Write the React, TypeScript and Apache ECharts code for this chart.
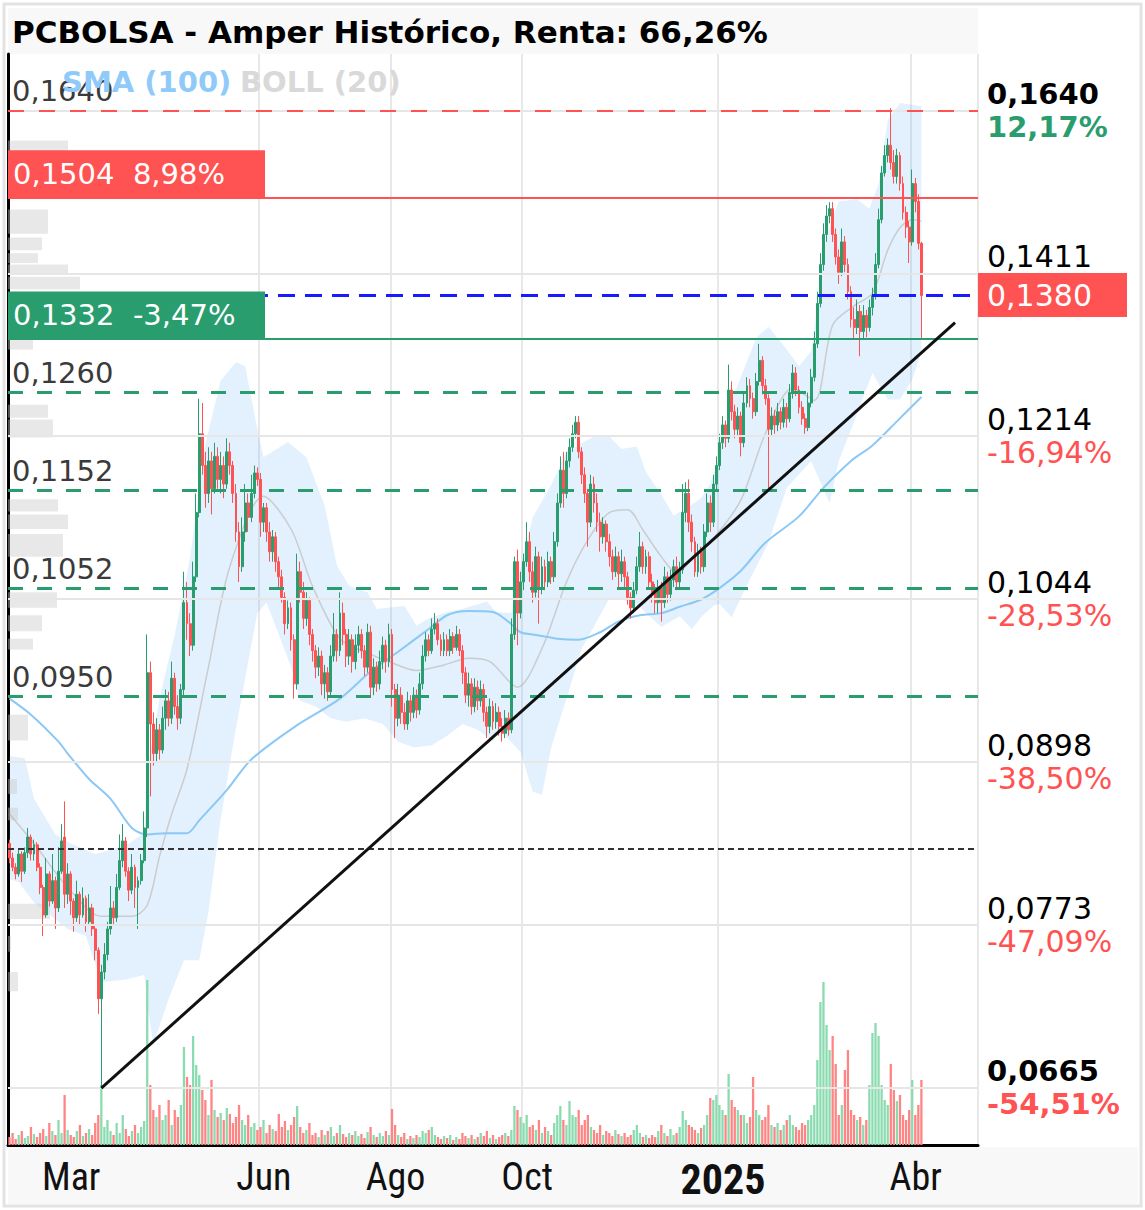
import React, { useEffect, useRef } from 'react';
import * as echarts from 'echarts';

const TITLE = 'PCBOLSA - Amper Histórico, Renta: 66,26%';
const LEGEND_SMA = 'SMA (100)';
const LEGEND_BOLL = 'BOLL (20)';

// trading calendar (Bolsa de Madrid)
const FIRST_DAY = '2024-02-05';
const LAST_DAY = '2025-04-04';
const HOLIDAYS = ['2024-03-29', '2024-04-01', '2024-05-01', '2024-12-25', '2024-12-26', '2025-01-01'];
const EMPTY_SLOTS_AFTER = 18;
const MONTH_LABELS: Record<string, string> = {
  '2024-03': 'Mar', '2024-06': 'Jun', '2024-08': 'Ago', '2024-10': 'Oct', '2025-01': '2025', '2025-04': 'Abr',
};
const GRID_MONTHS = ['2024-06', '2024-08', '2024-10', '2025-01', '2025-04'];

// price axis range (logarithmic)
const PRICE_MIN = 0.0631;
const PRICE_MAX = 0.1724;

// prices in 1/10000 EUR
const OPEN = [
  833,822,815,810,825,812,826,838,825,832, 815,800,780,810,790,805,785,812,838,795,
  810,790,778,795,780,792,775,785,770,755, 722,740,752,770,785,778,800,820,835,812,
  798,815,800,805,820,845,975,930,905,925, 908,935,950,935,970,945,935,960,1040,1020,
  1000,1065,1130,1215,1180,1150,1185,1155,1190,1165, 1180,1160,1195,1180,1150,1110,1075,1110,1140,1125,
  1150,1172,1165,1120,1135,1110,1090,1105,1080,1065, 1045,1020,1035,1005,965,1070,1050,1025,1042,1010,
  995,980,990,965,975,958,990,1010,995,1030, 1010,990,1005,985,1000,1010,995,980,1012,962,
  980,965,985,1000,985,1010,960,935,955,940, 930,950,940,955,942,965,990,1005,995,1015,
  1020,1005,995,1005,995,1008,998,1010,995,975, 955,965,945,962,950,960,940,928,945,932,
  940,928,922,935,925,1010,1080,1030,1060,1080, 1100,1070,1050,1085,1055,1075,1060,1080,1065,1100,
  1140,1175,1150,1185,1200,1215,1228,1195,1170,1150, 1120,1160,1140,1120,1105,1118,1100,1085,1070,1085,
  1068,1080,1065,1045,1035,1052,1075,1095,1075,1085, 1060,1050,1040,1055,1040,1065,1048,1062,1075,1060,
  1072,1130,1150,1120,1100,1070,1090,1075,1110,1140, 1120,1160,1180,1205,1225,1210,1265,1240,1220,1235,
  1205,1250,1270,1255,1240,1275,1300,1270,1255,1220, 1235,1225,1240,1228,1245,1232,1262,1285,1265,1245,
  1232,1222,1250,1280,1320,1370,1420,1460,1485,1495, 1460,1430,1410,1450,1420,1385,1350,1340,1360,1335,
  1355,1340,1365,1380,1420,1480,1545,1570,1585,1560, 1540,1570,1530,1490,1470,1450,1530,1505,1448,
];
const HIGH = [
  836,826,818,828,827,830,845,840,836,834, 818,802,822,812,825,808,830,848,866,818,
  812,792,805,797,800,794,795,788,772,757, 745,760,775,801,790,810,840,848,838,815,
  825,817,808,825,858,1010,985,940,935,930, 945,960,958,985,975,955,965,1070,1060,1030,
  1080,1150,1255,1250,1195,1200,1195,1205,1200,1195, 1190,1210,1205,1185,1160,1120,1125,1160,1150,1170,
  1180,1178,1172,1140,1140,1120,1112,1110,1085,1072, 1050,1042,1040,1010,1088,1080,1060,1050,1045,1015,
  1000,998,995,982,980,1000,1030,1015,1050,1040, 1015,1015,1010,1010,1018,1015,1000,1020,1018,988,
  985,995,1008,1005,1020,1015,965,965,962,948, 958,955,962,960,975,1000,1012,1010,1025,1030,
  1025,1010,1012,1010,1015,1012,1018,1015,1000,980, 975,970,970,968,968,965,945,952,950,948,
  945,935,942,940,1025,1085,1092,1070,1088,1120, 1110,1080,1095,1090,1085,1082,1090,1085,1110,1150,
  1190,1195,1195,1210,1225,1235,1235,1200,1178,1155, 1170,1168,1150,1130,1125,1122,1108,1092,1095,1090,
  1092,1085,1070,1050,1060,1085,1110,1100,1092,1090, 1068,1058,1062,1060,1075,1070,1072,1082,1085,1080,
  1160,1162,1165,1128,1105,1098,1095,1118,1150,1148, 1170,1190,1215,1235,1230,1295,1275,1248,1245,1240,
  1262,1280,1278,1262,1285,1320,1305,1278,1260,1245, 1242,1250,1245,1255,1250,1272,1295,1292,1270,1252,
  1238,1262,1290,1335,1385,1435,1475,1500,1504,1504, 1468,1440,1468,1458,1428,1392,1365,1375,1368,1368,
  1362,1375,1390,1435,1495,1555,1585,1595,1640,1578, 1580,1575,1540,1498,1478,1550,1538,1515,1450,
];
const LOW = [
  818,812,806,808,804,810,822,820,820,812, 795,765,778,786,788,770,782,810,785,788,
  780,768,775,772,778,768,772,765,748,712, 665,735,748,766,772,775,798,815,808,790,
  795,785,770,802,818,838,870,895,898,900, 905,925,928,930,938,925,930,955,1005,990,
  995,1060,1125,1170,1135,1140,1128,1150,1155,1150, 1145,1155,1170,1140,1100,1060,1070,1100,1110,1120,
  1145,1158,1105,1110,1100,1080,1080,1070,1055,1040, 1010,1015,995,952,960,1040,1015,1018,1000,985,
  970,972,955,952,950,955,985,985,990,1000, 980,982,975,978,993,988,972,975,955,955,
  958,960,978,975,980,945,918,928,930,925, 925,932,935,935,938,960,985,990,992,1010,
  1000,990,990,990,990,992,995,990,965,948, 945,938,940,942,945,932,918,922,925,926,
  920,915,918,920,922,1005,1000,1025,1052,1075, 1060,1040,1045,1020,1048,1052,1055,1058,1060,1095,
  1135,1135,1145,1178,1195,1210,1188,1160,1140,1095, 1115,1130,1110,1090,1098,1090,1075,1062,1065,1055,
  1060,1055,1038,1025,1030,1048,1070,1068,1068,1055, 1040,1030,1030,1022,1035,1040,1042,1055,1052,1055,
  1068,1120,1110,1090,1065,1065,1068,1070,1105,1110, 1115,1152,1175,1198,1200,1205,1230,1210,1212,1190,
  1200,1245,1245,1232,1235,1270,1260,1248,1155,1212, 1215,1218,1220,1222,1222,1228,1255,1258,1238,1225,
  1215,1218,1245,1275,1315,1365,1412,1450,1475,1450, 1420,1395,1405,1410,1375,1340,1325,1332,1305,1325,
  1328,1335,1355,1375,1415,1475,1540,1560,1550,1530, 1530,1520,1480,1455,1422,1445,1490,1440,1325,
];
const CLOSE = [
  822,815,810,825,812,826,838,825,832,815, 800,780,810,790,805,785,812,835,795,810,
  790,778,795,780,792,775,785,770,755,722, 740,752,770,785,778,800,820,835,812,798,
  815,800,805,820,845,975,930,905,925,908, 935,950,935,970,945,935,960,1040,1020,1000,
  1065,1130,1215,1180,1150,1185,1155,1190,1165,1180, 1160,1195,1180,1150,1110,1075,1110,1140,1125,1150,
  1172,1165,1120,1135,1110,1090,1105,1080,1065,1045, 1020,1035,1005,965,1070,1050,1025,1042,1010,995,
  980,990,965,975,958,990,1010,995,1030,1010, 990,1005,985,1000,1010,995,980,1012,962,980,
  965,985,1000,985,1010,960,935,955,940,930, 950,940,955,942,965,990,1005,995,1015,1020,
  1005,995,1005,995,1008,998,1010,995,975,955, 965,945,962,950,960,940,928,945,932,940,
  928,922,935,925,1010,1080,1030,1060,1080,1100, 1070,1050,1085,1055,1075,1060,1080,1065,1100,1140,
  1175,1150,1185,1200,1215,1228,1195,1170,1150,1120, 1160,1140,1120,1105,1118,1100,1085,1070,1085,1068,
  1080,1065,1045,1035,1052,1075,1095,1075,1085,1060, 1050,1040,1055,1040,1065,1048,1062,1075,1060,1072,
  1130,1150,1120,1100,1070,1090,1075,1110,1140,1120, 1160,1180,1205,1225,1210,1265,1240,1220,1235,1205,
  1250,1270,1255,1240,1275,1300,1270,1255,1220,1235, 1225,1240,1228,1245,1232,1262,1285,1265,1245,1232,
  1222,1250,1280,1320,1370,1420,1460,1485,1495,1460, 1430,1410,1450,1420,1385,1350,1340,1360,1335,1355,
  1340,1365,1380,1420,1480,1545,1570,1585,1560,1540, 1570,1530,1490,1470,1450,1530,1505,1448,1380,
];
const VOLUME = [
  8,12,6,10,14,7,9,18,11,8, 12,16,9,22,14,10,25,12,50,15,
  10,8,14,20,9,12,16,10,22,30, 60,18,25,14,10,22,12,30,16,9,
  14,20,12,18,24,165,60,35,28,40, 25,30,45,20,35,28,40,98,68,60,
  109,80,70,55,45,30,65,35,28,32, 25,37,31,22,28,40,25,20,30,18,
  22,15,18,25,12,20,16,14,31,18, 24,15,20,28,39,18,12,15,22,10,
  12,8,15,10,14,18,9,12,20,11, 8,12,10,14,9,11,7,13,18,10,
  8,12,9,14,10,36,20,10,8,12, 6,9,7,10,8,14,12,15,18,10,
  8,6,9,7,10,5,8,6,12,9, 7,10,6,8,12,9,14,7,10,6,
  8,10,12,9,15,39,35,28,22,30, 18,20,15,25,12,18,14,10,22,30,
  39,25,20,44,30,28,35,20,25,30, 18,15,12,20,10,14,12,9,15,11,
  9,12,8,10,15,20,12,8,10,7, 10,8,14,20,12,9,16,10,12,18,
  34,25,20,18,15,12,17,20,30,47, 45,50,40,35,30,71,45,38,35,30,
  30,22,28,68,35,30,25,28,40,20, 18,22,15,20,25,30,20,18,15,22,
  20,25,30,40,85,143,163,120,95,109, 81,30,40,75,95,35,30,25,28,20,
  25,60,112,122,109,60,45,40,81,55, 44,50,30,25,35,65,30,40,65,
];

// indicators: [trading-day index, price]
const SMA100 = [
  [0,.0952],[7,.0938],[16,.0915],[19,.0905],[26,.0884],[33,.0868],[40,.0845],[45,.0840],[51,.0841],[58,.0841],
  [62,.0851],[71,.0875],[79,.0900],[94,.0929],[108,.0952],[118,.0976],[127,.0994],[137,.1015],[143,.1028],[150,.1032],
  [158,.1031],[163,.1022],[167,.1012],[171,.1010],[179,.1006],[186,.1005],[193,.1012],[199,.1022],[206,.1028],[213,.1030],
  [219,.1036],[226,.1043],[232,.1054],[239,.1071],[247,.1099],[258,.1126],[266,.1156],[275,.1185],[282,.1202],[290,.1229],[298,.1257],
];
const BOLL_UP = [
  [0,.0903],[5,.0901],[8,.0868],[15,.0840],[20,.0833],[28,.0825],[33,.0828],[39,.0833],[44,.0841],[45,.0890],
  [49,.0952],[54,.1010],[59,.1084],[64,.1204],[69,.1276],[74,.1298],[77,.1293],[81,.1220],[83,.1189],[91,.1206],
  [97,.1189],[103,.1137],[107,.1076],[111,.1056],[117,.1050],[120,.1034],[129,.1037],[133,.1018],[137,.1025],[143,.1031],
  [148,.1034],[156,.1041],[159,.1031],[164,.1030],[167,.1075],[171,.1125],[177,.1159],[182,.1195],[191,.1212],[196,.1212],
  [200,.1198],[205,.1201],[208,.1173],[213,.1149],[217,.1127],[221,.1134],[226,.1145],[229,.1160],[232,.1190],[236,.1253],
  [244,.1327],[248,.1341],[253,.1318],[258,.1293],[262,.1311],[264,.1369],[267,.1458],[271,.1505],[277,.1508],[281,.1495],
  [284,.1529],[287,.1622],[291,.1648],[298,.1643],
];
const BOLL_MID = [
  [0,.0856],[8,.0833],[19,.0800],[30,.0779],[40,.0779],[45,.0787],[49,.0823],[53,.0856],[58,.0892],[65,.0980],
  [72,.1075],[83,.1147],[92,.1113],[99,.1056],[108,.1006],[116,.0994],[124,.0985],[133,.0977],[142,.0982],[150,.0988],
  [157,.0985],[166,.0962],[174,.0997],[182,.1060],[189,.1102],[196,.1130],[202,.1133],[207,.1112],[213,.1085],[218,.1069],
  [223,.1082],[230,.1103],[239,.1143],[247,.1215],[256,.1267],[263,.1253],[269,.1343],[276,.1367],[282,.1383],[287,.1439],
  [291,.1469],[295,.1480],[298,.1478],
];
const BOLL_LOW = [
  [0,.0806],[3,.0804],[8,.0789],[19,.0770],[25,.0765],[30,.0733],[38,.0735],[44,.0738],[46,.0705],[47,.0692],
  [52,.0722],[57,.0748],[62,.0748],[65,.0782],[69,.0852],[73,.0912],[77,.0970],[79,.1000],[81,.1030],[84,.1040],
  [88,.1010],[92,.0980],[95,.0950],[100,.0945],[105,.0935],[110,.0932],[116,.0935],[122,.0930],[127,.0915],[132,.0910],
  [138,.0912],[143,.0920],[148,.0930],[153,.0925],[158,.0915],[160,.0925],[165,.0912],[167,.0906],[171,.0874],[174,.0871],
  [177,.0910],[182,.0952],[187,.0997],[193,.1028],[196,.1044],[204,.1041],[213,.1017],[219,.1027],[223,.1015],[226,.1026],
  [230,.1037],[232,.1039],[236,.1026],[240,.1051],[248,.1099],[254,.1156],[262,.1185],[265,.1162],[268,.1140],[271,.1185],
  [277,.1238],[282,.1285],[287,.1254],[291,.1254],[295,.1277],[298,.1310],
];

// volume-by-price profile: [low price, high price, volume]
const PROFILE = [
  [.1566,.1592,60],[.1461,.1494,40],[.1439,.1456,34],[.1422,.1435,30],[.1407,.1420,60],[.1388,.1404,72],
  [.1313,.1325,25],[.1233,.1248,40],[.1211,.1231,45],[.1131,.1144,50],[.1113,.1128,60],[.1085,.1108,55],
  [.1035,.1050,49],[.1013,.1028,34],[.0996,.1006,25],[.0916,.0938,20],[.0872,.0884,9],[.0851,.0861,10],
  [.0777,.0788,42],[.0754,.0765,3],[.0727,.0740,10],
];

// trend line: [trading-day index, price]
const TREND = [[30, 0.0665], [309, 0.1346]];

// right axis ticks
const TICK_VALUES = [0.1640, 0.1411, 0.1214, 0.1044, 0.0898, 0.0773, 0.0665];
const TICK_TEXT = ['0,1640', '0,1411', '0,1214', '0,1044', '0,0898', '0,0773', '0,0665'];
const TICK_PCT = ['12,17%', '-3,47%', '-16,94%', '-28,53%', '-38,50%', '-47,09%', '-54,51%'];

// horizontal levels
const LEVEL_PRICES = [0.1640, 0.1504, 0.1380, 0.1332, 0.1260, 0.1152, 0.1052, 0.0950, 0.0830];
const LEVEL_TEXT = ['0,1640', '0,1504  8,98%', '0,1380', '0,1332  -3,47%', '0,1260', '0,1152', '0,1052', '0,0950', ''];
const LEVEL_KIND = ['max', 'resist', 'last', 'support', 'fib', 'fib', 'fib', 'fib', 'base'];

const GREEN = '#2a9d6f';
const RED = '#ff5252';
const VOL_UP = '#8adcb0';
const VOL_DOWN = '#ff8585';
const FONT = "'DejaVu Sans', 'Noto Sans', sans-serif";
const NARROW = "'Liberation Sans Narrow', 'Roboto Condensed', 'Roboto', sans-serif";

// the price axis is logarithmic: values are placed on it by their natural log
const L = (p: number) => Math.log(p);

function buildCategories(): string[] {
  const out: string[] = [];
  const hol = new Set(HOLIDAYS);
  const d = new Date(FIRST_DAY + 'T00:00:00Z');
  const end = new Date(LAST_DAY + 'T00:00:00Z');
  let extra = 0;
  for (let guard = 0; guard < 2000; guard++) {
    const dow = d.getUTCDay();
    const key = d.toISOString().slice(0, 10);
    if (dow !== 0 && dow !== 6 && !hol.has(key)) {
      if (d.getTime() > end.getTime()) {
        if (extra >= EMPTY_SLOTS_AFTER) break;
        extra++;
      }
      out.push(key);
    }
    d.setUTCDate(d.getUTCDate() + 1);
  }
  return out;
}

function levelLine(kind: string) {
  switch (kind) {
    case 'max': return { color: RED, width: 2, type: [16, 15] };
    case 'resist': return { color: RED, width: 2, type: 'solid' };
    case 'last': return { color: '#1a1aff', width: 3, type: [17, 10] };
    case 'support': return { color: GREEN, width: 2, type: 'solid' };
    case 'fib': return { color: GREEN, width: 3, type: [15, 14] };
    default: return { color: '#333', width: 2, type: [6, 4] };
  }
}

function levelLabel(kind: string, text: string) {
  if (kind === 'base') return { show: false };
  if (kind === 'resist' || kind === 'support') {
    return {
      show: true, position: 'insideStartTop', distance: [0, 0], formatter: () => text,
      color: '#fff', fontSize: 29, fontFamily: FONT, backgroundColor: kind === 'resist' ? RED : GREEN,
      padding: [8, 6, 8, 5], width: 246, lineHeight: 31,
    };
  }
  if (kind === 'last') {
    return {
      show: true, position: 'end', distance: 0, formatter: () => text,
      color: '#fff', fontSize: 30, fontFamily: FONT, backgroundColor: RED,
      padding: [8, 0, 6, 9], width: 140, lineHeight: 30,
    };
  }
  return {
    show: true, position: 'insideStartTop', distance: [4, 5], formatter: () => text,
    color: '#3a3a3a', fontSize: 29, fontFamily: FONT,
  };
}

function buildOption() {
  const cats = buildCategories();
  const labelAt = new Map<number, string>();
  const gridAt = new Set<number>();
  const seen = new Set<string>();
  cats.forEach((d, i) => {
    const m = d.slice(0, 7);
    if (!seen.has(m)) {
      seen.add(m);
      if (MONTH_LABELS[m]) labelAt.set(i, MONTH_LABELS[m]);
      if (GRID_MONTHS.includes(m)) gridAt.add(i);
    }
  });

  const candles = CLOSE.map((c, i) => [L(OPEN[i] / 1e4), L(c / 1e4), L(LOW[i] / 1e4), L(HIGH[i] / 1e4)]);
  const vols = VOLUME.map((v, i) => ({ value: v, itemStyle: { color: CLOSE[i] >= OPEN[i] ? VOL_UP : VOL_DOWN } }));
  const toLog = (arr: number[][]) => arr.map(([i, p]) => [i, L(p)]);

  const tickRich = {
    v: { fontSize: 30, color: '#000', fontFamily: FONT, lineHeight: 33 },
    vb: { fontSize: 29, color: '#000', fontFamily: FONT, fontWeight: 'bold', lineHeight: 33 },
    pu: { fontSize: 30, color: GREEN, fontFamily: FONT, lineHeight: 33 },
    pub: { fontSize: 29, color: GREEN, fontFamily: FONT, fontWeight: 'bold', lineHeight: 33 },
    pd: { fontSize: 30, color: RED, fontFamily: FONT, lineHeight: 33 },
    pdb: { fontSize: 29, color: RED, fontFamily: FONT, fontWeight: 'bold', lineHeight: 33 },
  };
  const tickLines = TICK_VALUES.map((v, k) => {
    const bold = k === 0 || k === TICK_VALUES.length - 1;
    const up = TICK_PCT[k].charAt(0) !== '-';
    const vs = bold ? 'vb' : 'v';
    const ps = (up ? 'pu' : 'pd') + (bold ? 'b' : '');
    const txt = `{${vs}|${TICK_TEXT[k]}}\n{${ps}|${TICK_PCT[k]}}`;
    return {
      yAxis: L(v),
      lineStyle: { color: '#e6e6e6', width: 2, type: 'solid' },
      label: { show: true, position: 'end', distance: 9, formatter: () => txt, rich: tickRich },
    };
  });
  const levelLines = LEVEL_PRICES.map((p, k) => ({
    yAxis: L(p),
    lineStyle: levelLine(LEVEL_KIND[k]),
    label: levelLabel(LEVEL_KIND[k], LEVEL_TEXT[k]),
  }));

  const bandUp = toLog(BOLL_UP);
  const bandLow = toLog(BOLL_LOW);

  return {
    animation: false,
    backgroundColor: '#ffffff',
    textStyle: { fontFamily: FONT },
    graphic: [
      { type: 'rect', z: -10, silent: true, shape: { x: 4, y: 4, width: 1137, height: 1202 }, style: { fill: '#fff', stroke: '#e3e3e3', lineWidth: 3 } },
      { type: 'rect', z: -9, silent: true, shape: { x: 8, y: 8, width: 970, height: 46 }, style: { fill: '#f8f8f8' } },
      { type: 'rect', z: -9, silent: true, shape: { x: 8, y: 1147, width: 1130, height: 57 }, style: { fill: '#f8f8f8' } },
      { type: 'text', z: 100, silent: true, style: { x: 12, y: 32, text: TITLE, fill: '#000', fontSize: 31, fontWeight: 'bold', fontFamily: FONT, verticalAlign: 'middle' } },
      { type: 'text', z: 100, silent: true, style: { x: 62, y: 82, text: LEGEND_SMA, fill: '#90caf9', fontSize: 29, fontWeight: 'bold', fontFamily: FONT, verticalAlign: 'middle' } },
      { type: 'text', z: 100, silent: true, style: { x: 240, y: 82, text: LEGEND_BOLL, fill: '#d9d9d9', fontSize: 29, fontWeight: 'bold', fontFamily: FONT, verticalAlign: 'middle' } },
    ],
    grid: [
      { left: 8, top: 54, width: 970, height: 1091 },
      { left: 8, top: 945, width: 970, height: 200 },
    ],
    xAxis: [
      {
        type: 'category', gridIndex: 0, data: cats, boundaryGap: true, position: 'bottom',
        axisLine: { show: true, onZero: false, lineStyle: { color: '#000', width: 3 } },
        axisTick: { show: false },
        axisLabel: {
          show: true, interval: (i: number) => labelAt.has(i),
          formatter: (_v: string, i: number) => {
            const t = labelAt.get(i) || '';
            return t === '2025' ? `{b|${t}}` : t;
          },
          margin: 13, fontSize: 38, fontFamily: NARROW, color: '#111', padding: [0, 0, 0, 7],
          rich: { b: { fontSize: 42, fontWeight: 'bold', fontFamily: NARROW, color: '#111' } },
        },
        splitLine: { show: true, interval: (i: number) => gridAt.has(i), lineStyle: { color: '#e8e8e8', width: 2 } },
      },
      { type: 'value', gridIndex: 0, position: 'top', min: 0, max: 970, show: false },
      { type: 'category', gridIndex: 1, data: cats, boundaryGap: true, show: false },
    ],
    yAxis: [
      {
        type: 'value', gridIndex: 0, position: 'right', min: L(PRICE_MIN), max: L(PRICE_MAX), scale: true,
        axisLine: { show: true, lineStyle: { color: '#000', width: 3 } },
        axisTick: { show: false }, axisLabel: { show: false }, splitLine: { show: false },
      },
      { type: 'value', gridIndex: 1, min: 0, max: 200, show: false },
    ],
    series: [
      {
        name: 'gridlines', type: 'line', xAxisIndex: 0, yAxisIndex: 0, data: [], z: 1, clip: false, silent: true,
        markLine: { silent: true, symbol: ['none', 'none'], animation: false, data: tickLines },
      },
      {
        name: 'BOLL band', type: 'custom', xAxisIndex: 0, yAxisIndex: 0, z: 1, silent: true,
        data: [bandUp[0]],
        renderItem: (_p: any, api: any) => {
          const pts = bandUp.map((p) => api.coord(p)).concat(bandLow.slice().reverse().map((p) => api.coord(p)));
          return { type: 'polygon', shape: { points: pts }, style: { fill: 'rgba(100,181,246,0.19)' } };
        },
      },
      {
        name: 'profile', type: 'custom', xAxisIndex: 1, yAxisIndex: 0, z: 2, silent: true,
        data: PROFILE.map((b) => [b[2], L(b[0])]),
        renderItem: (params: any, api: any) => {
          const b = PROFILE[params.dataIndex];
          const tl = api.coord([0, L(b[1])]);
          const br = api.coord([b[2], L(b[0])]);
          return { type: 'rect', shape: { x: tl[0], y: tl[1], width: br[0] - tl[0], height: br[1] - tl[1] }, style: { fill: 'rgba(200,200,200,0.42)' } };
        },
      },
      {
        name: LEGEND_BOLL, type: 'line', xAxisIndex: 0, yAxisIndex: 0, data: toLog(BOLL_MID), z: 3, silent: true,
        symbol: 'none', smooth: 0.3, lineStyle: { color: 'rgba(175,160,150,0.45)', width: 1.5 },
      },
      {
        name: LEGEND_SMA, type: 'line', xAxisIndex: 0, yAxisIndex: 0, data: toLog(SMA100), z: 3, silent: true,
        symbol: 'none', smooth: 0.3, lineStyle: { color: '#8cc8f5', width: 2 },
      },
      {
        name: 'volume', type: 'bar', xAxisIndex: 2, yAxisIndex: 1, data: vols, barWidth: 2.3, z: 2, silent: true,
      },
      {
        name: 'PCBOLSA', type: 'candlestick', xAxisIndex: 0, yAxisIndex: 0, data: candles, z: 4, barWidth: 2.4,
        itemStyle: { color: GREEN, color0: RED, borderColor: GREEN, borderColor0: RED, borderWidth: 1 },
      },
      {
        name: 'levels', type: 'line', xAxisIndex: 0, yAxisIndex: 0, data: [], z: 5, clip: false, silent: true,
        markLine: { silent: true, symbol: ['none', 'none'], animation: false, data: levelLines },
      },
      {
        name: 'trend', type: 'line', xAxisIndex: 0, yAxisIndex: 0, data: toLog(TREND), z: 6, silent: true,
        symbol: 'none', lineStyle: { color: '#111', width: 3 },
      },
    ],
  };
}

export default function App() {
  const ref = useRef<HTMLDivElement>(null);
  useEffect(() => {
    if (!ref.current) return;
    const chart = echarts.init(ref.current, undefined, { renderer: 'svg' });
    chart.setOption(buildOption() as any);
    return () => chart.dispose();
  }, []);
  return (
    <div style={{ position: 'fixed', left: 0, top: 0, width: 1145, height: 1210, background: '#fff' }}>
      <div ref={ref} style={{ width: 1145, height: 1210 }} />
    </div>
  );
}
